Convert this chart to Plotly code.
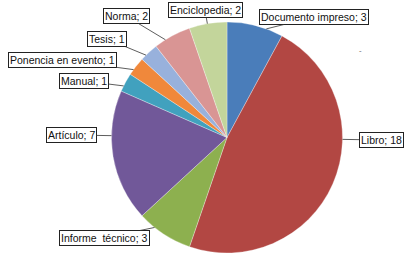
import math
import plotly.graph_objects as go

categories = ["Documento impreso", "Libro", "Informe  técnico", "Artículo", "Manual",
              "Ponencia en evento", "Tesis", "Norma", "Enciclopedia"]
values = [3, 18, 3, 7, 1, 1, 1, 2, 2]
colors = ["#4A7DBA", "#B24743", "#8DB04F", "#715899", "#41A1BE",
          "#F0883B", "#98B1DC", "#D99594", "#C3D59B"]

# label box centers (pixels, layout only)
label_pos = [(314, 17), (381, 140), (104, 238), (71, 135), (84, 81),
             (62, 60), (107, 39), (126, 16), (205, 10)]

W, H = 409, 257
cx, cy, r = 227, 137.5, 115.5

fig = go.Figure(go.Pie(
    labels=categories, values=values, sort=False, direction="clockwise",
    rotation=0, textinfo="none", hoverinfo="label+value",
    marker=dict(colors=colors, line=dict(color="rgba(255,255,255,0.5)", width=0.6)),
    domain=dict(x=[(cx - r) / W, (cx + r) / W], y=[1 - (cy + r) / H, 1 - (cy - r) / H]),
    showlegend=False,
))

total = sum(values)
annotations = []
cum = 0
for name, v, (bx, by) in zip(categories, values, label_pos):
    a0 = cum / total * 360
    a1 = (cum + v) / total * 360
    cum += v
    span = a1 - a0
    d = math.degrees(math.atan2(bx - cx, -(by - cy))) % 360
    lo, hi = a0 + 0.3 * span, a1 - 0.3 * span
    cand = [d - 360, d, d + 360]
    d = min(cand, key=lambda t: abs(t - (a0 + a1) / 2))
    ang = min(max(d, lo), hi)
    tx = cx + r * math.sin(math.radians(ang))
    ty = cy - r * math.cos(math.radians(ang))
    annotations.append(dict(
        x=tx / W, y=1 - ty / H, xref="paper", yref="paper",
        ax=bx - tx, ay=by - ty, axref="pixel", ayref="pixel",
        text=f"{name}; {v}", showarrow=True, arrowhead=0, arrowwidth=0.8,
        arrowcolor="#333333", standoff=0,
        font=dict(family="Liberation Sans, Arial, sans-serif", size=10.5, color="#111111"),
        bordercolor="#222222", borderwidth=1, borderpad=1, bgcolor="white",
    ))

annotations.append(dict(x=364 / W, y=1 - 42 / H, xref="paper", yref="paper",
                        text="-", showarrow=False,
                        font=dict(size=8, color="#555555")))

fig.update_layout(
    width=W, height=H, margin=dict(l=0, r=0, t=0, b=0),
    paper_bgcolor="white", plot_bgcolor="white",
    annotations=annotations,
)
fig.write_html("out.html", config={"displayModeBar": False},
               post_script="document.body.style.margin='0';document.body.style.overflow='hidden';")
